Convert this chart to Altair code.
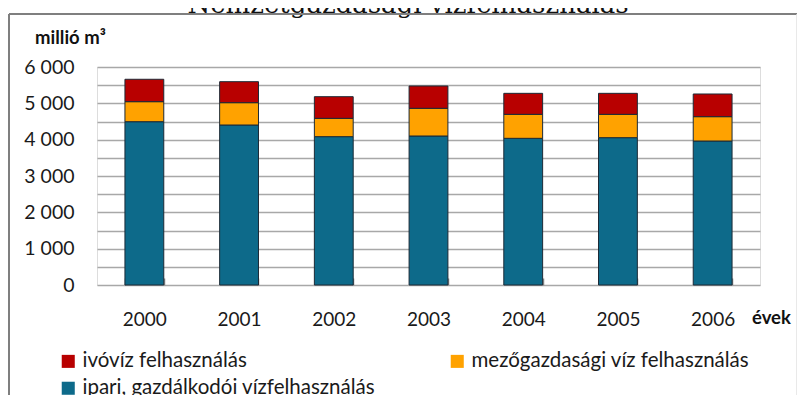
import altair as alt
import pandas as pd

years = ["2000", "2001", "2002", "2003", "2004", "2005", "2006"]
# legend order (laid out column by column): red, teal | orange
series = ["ivóvíz felhasználás", "ipari, gazdálkodói vízfelhasználás", "mezőgazdasági víz felhasználás"]
colors = ["#b80000", "#0d6a8a", "#ffa200"]
ipari = [4495, 4404, 4083, 4101, 4037, 4055, 3963]
mezo = [551, 614, 504, 762, 660, 642, 670]
ivoviz = [616, 578, 596, 614, 578, 578, 624]
y_ticks = list(range(0, 6001, 500))

rows = []
for i, yr in enumerate(years):
    rows.append({"ev": yr, "sorozat": series[1], "ertek": ipari[i], "rend": 1})
    rows.append({"ev": yr, "sorozat": series[2], "ertek": mezo[i], "rend": 2})
    rows.append({"ev": yr, "sorozat": series[0], "ertek": ivoviz[i], "rend": 3})
df = pd.DataFrame(rows)

FONT = "Lato"
one = pd.DataFrame({"a": [0]})

bars = alt.Chart(df).mark_bar(stroke="#1c2a36", strokeWidth=1).encode(
    x=alt.X("ev:N", sort=years,
            scale=alt.Scale(paddingInner=0.59, paddingOuter=0.295),
            axis=alt.Axis(title=None, labelAngle=0, labelFont=FONT, labelFontSize=19,
                          labelColor="#1a1a1a", domain=False, offset=-7, tickSize=7,
                          tickBand="extent", tickColor="#8a8a8a", tickWidth=1.5,
                          labelPadding=25, grid=False)),
    y=alt.Y("ertek:Q", stack="zero",
            scale=alt.Scale(domain=[0, 6000], nice=False),
            axis=alt.Axis(title=None, values=y_ticks, domain=False, ticks=False,
                          labelExpr="datum.value % 1000 == 0 ? replace(format(datum.value, ','), ',', ' ') : ''",
                          labelFont=FONT, labelFontSize=19.5, labelColor="#1a1a1a",
                          labelPadding=23, gridColor="#a8a8a8", gridWidth=1.5)),
    color=alt.Color("sorozat:N",
                    scale=alt.Scale(domain=series, range=colors),
                    legend=alt.Legend(title=None, orient="none", legendX=-39, legendY=284,
                                      columns=2, columnPadding=71, rowPadding=6,
                                      symbolType="square", symbolSize=170, symbolStrokeWidth=0,
                                      labelFont=FONT, labelFontSize=20.5, labelColor="#1a1a1a",
                                      labelOffset=4, labelLimit=500, padding=0, gridAlign="all")),
    order=alt.Order("rend:Q"),
)

title_txt = alt.Chart(one).mark_text(font="DejaVu Serif", fontSize=26, align="center",
                                      baseline="alphabetic", color="#111111").encode(
    x=alt.value(311), y=alt.value(-54), text=alt.value("Nemzetgazdasági vízfelhasználás"))

unit_txt = alt.Chart(one).mark_text(font=FONT, fontSize=18.5, fontWeight="bold", align="left",
                                     baseline="alphabetic", color="#111111").encode(
    x=alt.value(-62), y=alt.value(-23), text=alt.value("millió m³"))

evek_txt = alt.Chart(one).mark_text(font=FONT, fontSize=18.5, fontWeight="bold", align="left",
                                     baseline="middle", color="#111111").encode(
    x=alt.value(655), y=alt.value(251), text=alt.value("évek"))

top_border = alt.Chart(one).mark_rule(color="#7f7f7f", strokeWidth=2).encode(
    x=alt.value(-88), x2=alt.value(700), y=alt.value(-53))
left_border = alt.Chart(one).mark_rule(color="#7f7f7f", strokeWidth=2).encode(
    x=alt.value(-88), y=alt.value(-53), y2=alt.value(330))
right_border = alt.Chart(one).mark_rule(color="#e2e2e2", strokeWidth=1.5).encode(
    x=alt.value(700), y=alt.value(-53), y2=alt.value(330))

chart = alt.layer(bars, title_txt, unit_txt, evek_txt, top_border, left_border, right_border).properties(
    width=663, height=218,
    autosize=alt.AutoSizeParams(type="none"),
    padding={"left": 89, "top": 59, "right": 37, "bottom": 110},
).configure_view(stroke=None, fill="#ebebeb").configure(background="white")

chart.save("out.html", embed_options={"renderer": "svg", "actions": False})
